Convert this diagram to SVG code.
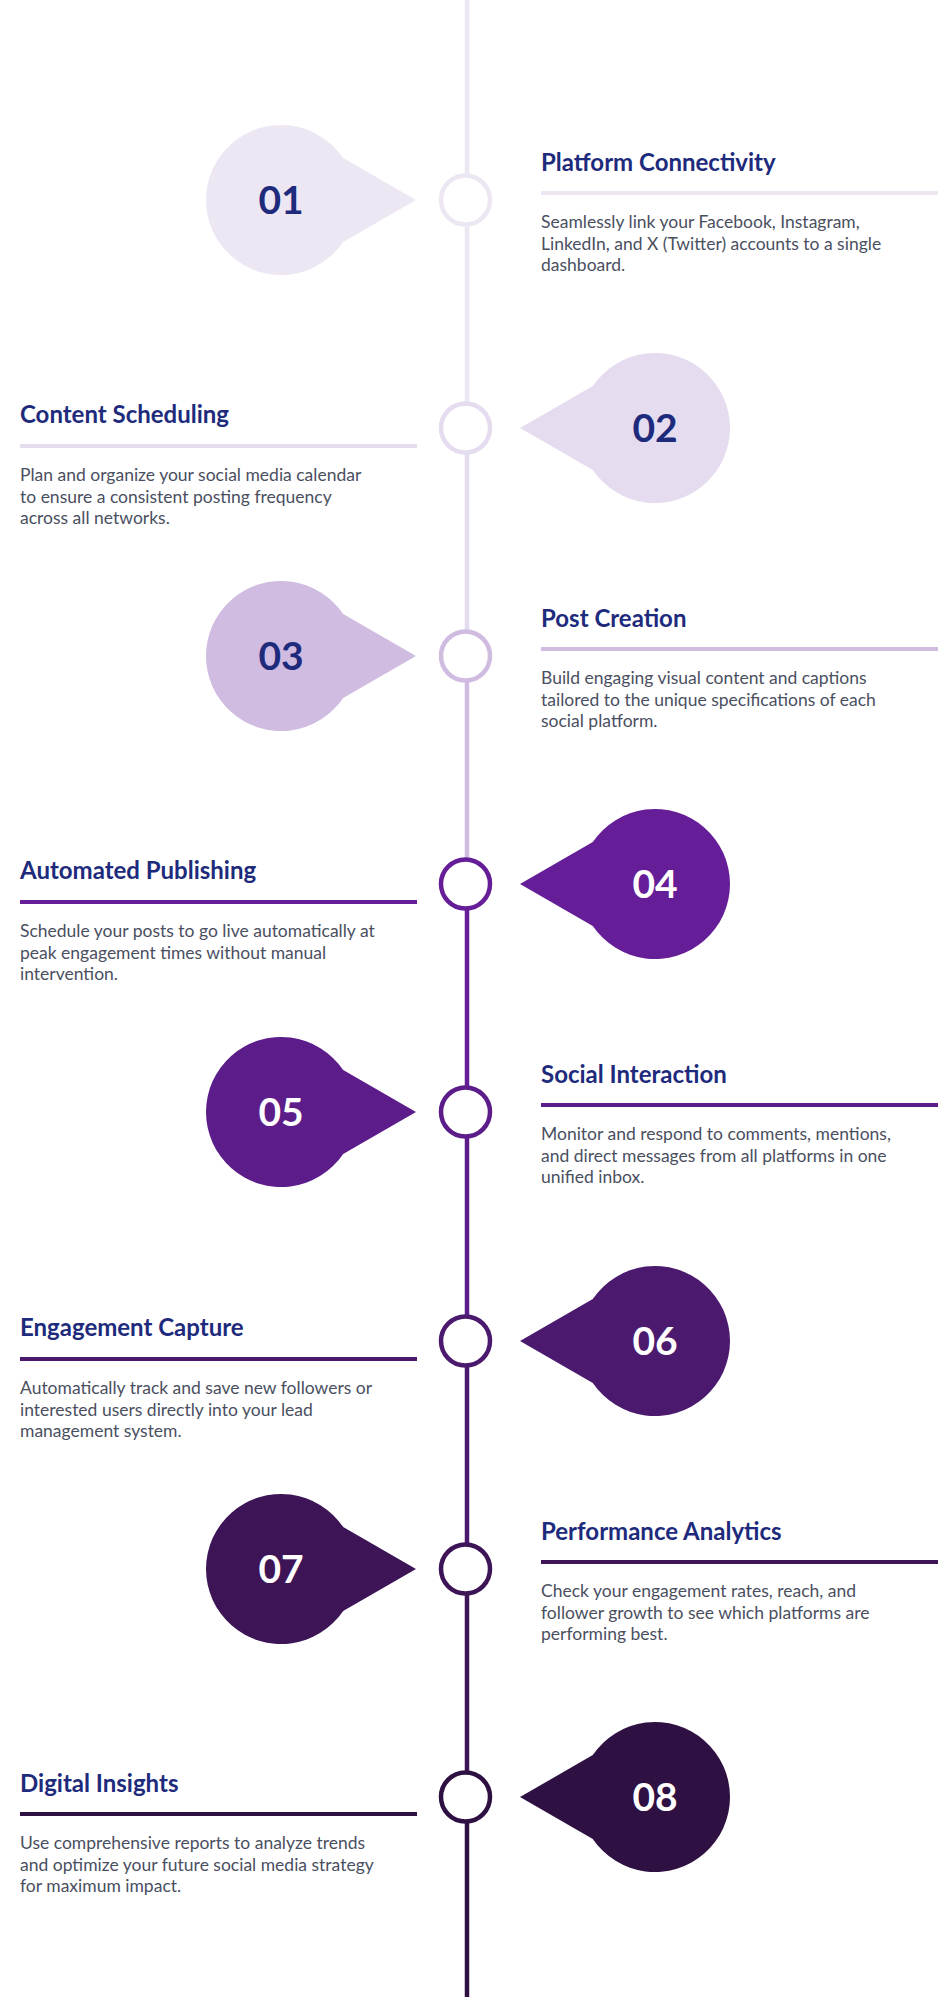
<svg xmlns="http://www.w3.org/2000/svg" width="938" height="1997" viewBox="0 0 938 1997">
<style>
.title{font-family:Lato,"Liberation Sans",sans-serif;font-weight:700;font-size:24px;fill:#1e2b7c}
.body{font-family:Lato,"Liberation Sans",sans-serif;font-size:17.5px;fill:#4a4f5f}
.num{font-family:Lato,"Liberation Sans",sans-serif;font-weight:700;font-size:39px;text-anchor:middle}
.dot{fill:#fff;stroke-width:4.5}
.seg{stroke-width:4.5;fill:none}
.ul{stroke-width:4}
</style>
<rect width="938" height="1997" fill="#fff"/>
<g id="connectors">
<line class="seg" x1="467" y1="0" x2="467" y2="200" stroke="#ede7f3"/>
<line class="seg" x1="467" y1="200" x2="467" y2="428" stroke="#ede7f3"/>
<line class="seg" x1="467" y1="428" x2="467" y2="656" stroke="#e5dcef"/>
<line class="seg" x1="467" y1="656" x2="467" y2="884" stroke="#d0bce0"/>
<line class="seg" x1="467" y1="884" x2="467" y2="1112" stroke="#661e98"/>
<line class="seg" x1="467" y1="1112" x2="467" y2="1341" stroke="#5c1c89"/>
<line class="seg" x1="467" y1="1341" x2="467" y2="1569" stroke="#4b1a6e"/>
<line class="seg" x1="467" y1="1569" x2="467" y2="1797" stroke="#3d1557"/>
<line class="seg" x1="467" y1="1797" x2="467" y2="1997" stroke="#2e1043"/>
</g>
<g id="node1">
<path d="M416 200 L343.2 158.1 A75 75 0 1 0 343.2 241.9 Z" fill="#ede7f3"/>
<text class="num" x="281" y="214" fill="#1e2b7c">01</text>
<circle class="dot" cx="465.5" cy="200" r="24.5" stroke="#ede7f3"/>
<text class="title" x="541" y="171">Platform Connectivity</text>
<line class="ul" x1="541" y1="193" x2="938" y2="193" stroke="#ede7f3"/>
<text class="body" x="541" y="227.5">Seamlessly link your Facebook, Instagram,</text>
<text class="body" x="541" y="249.5">LinkedIn, and X (Twitter) accounts to a single</text>
<text class="body" x="541" y="271">dashboard.</text>
</g>
<g id="node2">
<path d="M520 428 L592.8 386.1 A75 75 0 1 1 592.8 469.9 Z" fill="#e5dcef"/>
<text class="num" x="655" y="442" fill="#1e2b7c">02</text>
<circle class="dot" cx="465.5" cy="428" r="24.5" stroke="#e5dcef"/>
<text class="title" x="20" y="423">Content Scheduling</text>
<line class="ul" x1="20" y1="446" x2="417" y2="446" stroke="#e5dcef"/>
<text class="body" x="20" y="480.5">Plan and organize your social media calendar</text>
<text class="body" x="20" y="502.5">to ensure a consistent posting frequency</text>
<text class="body" x="20" y="524">across all networks.</text>
</g>
<g id="node3">
<path d="M416 656 L343.2 614.1 A75 75 0 1 0 343.2 697.9 Z" fill="#d0bce0"/>
<text class="num" x="281" y="670" fill="#1e2b7c">03</text>
<circle class="dot" cx="465.5" cy="656" r="24.5" stroke="#d0bce0"/>
<text class="title" x="541" y="627">Post Creation</text>
<line class="ul" x1="541" y1="649" x2="938" y2="649" stroke="#d0bce0"/>
<text class="body" x="541" y="683.5">Build engaging visual content and captions</text>
<text class="body" x="541" y="705.5">tailored to the unique specifications of each</text>
<text class="body" x="541" y="727">social platform.</text>
</g>
<g id="node4">
<path d="M520 884 L592.8 842.1 A75 75 0 1 1 592.8 925.9 Z" fill="#661e98"/>
<text class="num" x="655" y="898" fill="#fff">04</text>
<circle class="dot" cx="465.5" cy="884" r="24.5" stroke="#661e98"/>
<text class="title" x="20" y="879">Automated Publishing</text>
<line class="ul" x1="20" y1="902" x2="417" y2="902" stroke="#661e98"/>
<text class="body" x="20" y="936.5">Schedule your posts to go live automatically at</text>
<text class="body" x="20" y="958.5">peak engagement times without manual</text>
<text class="body" x="20" y="980">intervention.</text>
</g>
<g id="node5">
<path d="M416 1112 L343.2 1070.1 A75 75 0 1 0 343.2 1153.9 Z" fill="#5c1c89"/>
<text class="num" x="281" y="1126" fill="#fff">05</text>
<circle class="dot" cx="465.5" cy="1112" r="24.5" stroke="#5c1c89"/>
<text class="title" x="541" y="1083">Social Interaction</text>
<line class="ul" x1="541" y1="1105" x2="938" y2="1105" stroke="#5c1c89"/>
<text class="body" x="541" y="1139.5">Monitor and respond to comments, mentions,</text>
<text class="body" x="541" y="1161.5">and direct messages from all platforms in one</text>
<text class="body" x="541" y="1183">unified inbox.</text>
</g>
<g id="node6">
<path d="M520 1341 L592.8 1299.1 A75 75 0 1 1 592.8 1382.9 Z" fill="#4b1a6e"/>
<text class="num" x="655" y="1355" fill="#fff">06</text>
<circle class="dot" cx="465.5" cy="1341" r="24.5" stroke="#4b1a6e"/>
<text class="title" x="20" y="1336">Engagement Capture</text>
<line class="ul" x1="20" y1="1359" x2="417" y2="1359" stroke="#4b1a6e"/>
<text class="body" x="20" y="1393.5">Automatically track and save new followers or</text>
<text class="body" x="20" y="1415.5">interested users directly into your lead</text>
<text class="body" x="20" y="1437">management system.</text>
</g>
<g id="node7">
<path d="M416 1569 L343.2 1527.1 A75 75 0 1 0 343.2 1610.9 Z" fill="#3d1557"/>
<text class="num" x="281" y="1583" fill="#fff">07</text>
<circle class="dot" cx="465.5" cy="1569" r="24.5" stroke="#3d1557"/>
<text class="title" x="541" y="1540">Performance Analytics</text>
<line class="ul" x1="541" y1="1562" x2="938" y2="1562" stroke="#3d1557"/>
<text class="body" x="541" y="1596.5">Check your engagement rates, reach, and</text>
<text class="body" x="541" y="1618.5">follower growth to see which platforms are</text>
<text class="body" x="541" y="1640">performing best.</text>
</g>
<g id="node8">
<path d="M520 1797 L592.8 1755.1 A75 75 0 1 1 592.8 1838.9 Z" fill="#2e1043"/>
<text class="num" x="655" y="1811" fill="#fff">08</text>
<circle class="dot" cx="465.5" cy="1797" r="24.5" stroke="#2e1043"/>
<text class="title" x="20" y="1792">Digital Insights</text>
<line class="ul" x1="20" y1="1814" x2="417" y2="1814" stroke="#2e1043"/>
<text class="body" x="20" y="1848.5">Use comprehensive reports to analyze trends</text>
<text class="body" x="20" y="1870.5">and optimize your future social media strategy</text>
<text class="body" x="20" y="1892">for maximum impact.</text>
</g>
</svg>
